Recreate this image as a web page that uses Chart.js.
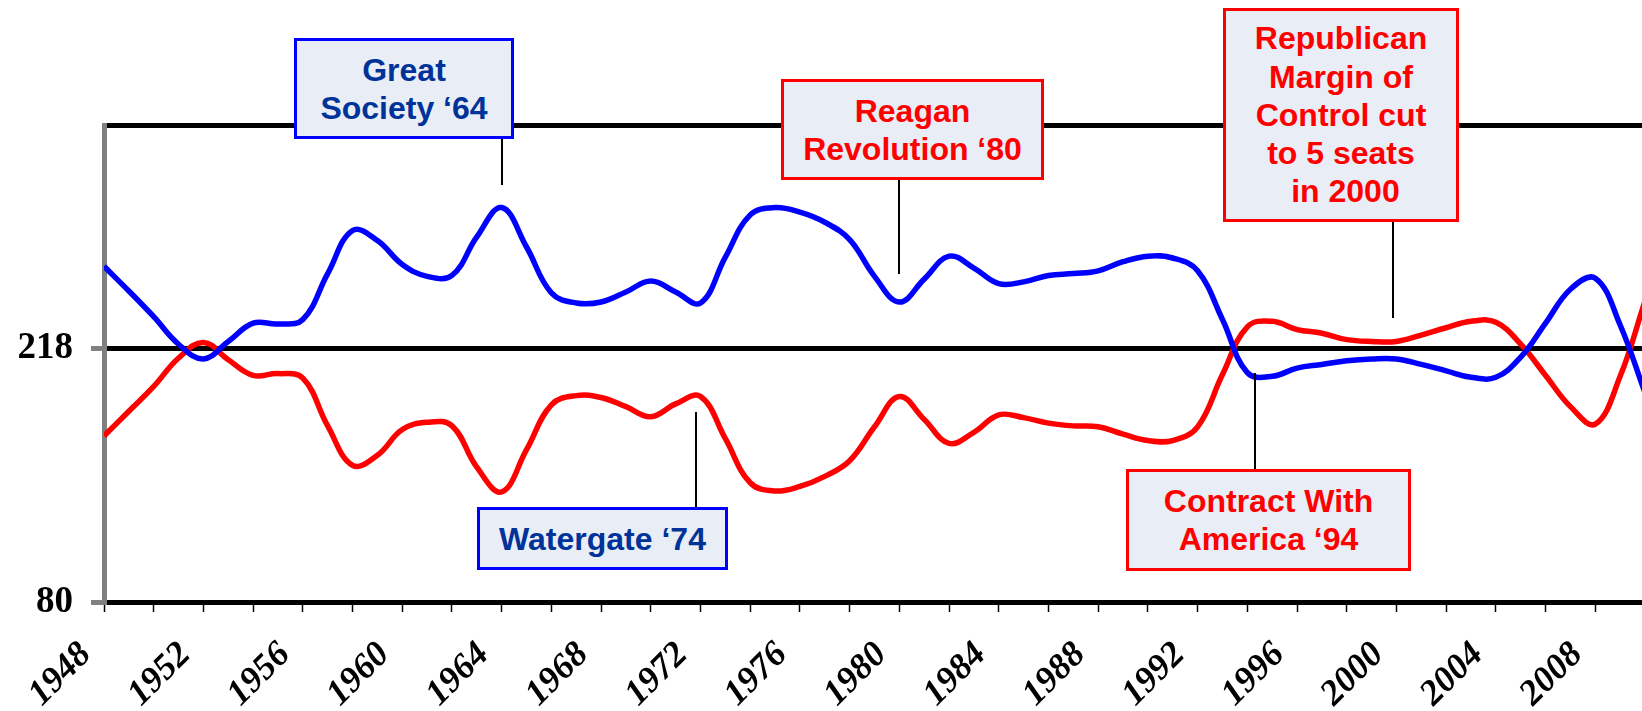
<!DOCTYPE html>
<html>
<head>
<meta charset="utf-8">
<title>House seats 1948-2010</title>
<script src="https://cdn.jsdelivr.net/npm/chart.js@4.4.1/dist/chart.umd.min.js"></script>
<style>
  html, body { margin: 0; padding: 0; background: #fff; overflow: hidden; }
  #wrap { position: relative; width: 1642px; height: 711px; overflow: hidden; }
  #chart { position: absolute; left: 0; top: 0; }
  .note {
    position: absolute; box-sizing: border-box; border: 3px solid;
    background: #e9edf6; display: flex; align-items: center; justify-content: center;
    font: bold 32px 'Liberation Sans', Arial, sans-serif; line-height: 38px;
    text-align: center; white-space: pre;
  }
  .dem { border-color: #0000ff; color: #003399; }
  .rep { border-color: #ff0000; color: #ff0000; }
</style>
</head>
<body>
<div id="wrap">
  <canvas id="chart" width="1645" height="711"></canvas>
  <div class="note dem" style="left:294px;top:38px;width:220px;height:101px"><span>Great<br>Society ‘64</span></div>
  <div class="note rep" style="left:781px;top:79px;width:263px;height:101px"><span>Reagan<br>Revolution ‘80</span></div>
  <div class="note rep" style="left:1223px;top:8px;width:236px;height:214px;line-height:38.3px"><span>Republican<br>Margin of<br>Control cut<br>to 5 seats<br> in 2000</span></div>
  <div class="note dem" style="left:477px;top:507px;width:251px;height:63px"><span>Watergate ‘74</span></div>
  <div class="note rep" style="left:1126px;top:469px;width:285px;height:102px"><span>Contract With<br>America ‘94</span></div>
</div>
<script>
// seats held after each year
const years = [
  1948, 1949, 1950, 1951, 1952, 1953, 1954, 1955, 1956, 1957,
  1958, 1959, 1960, 1961, 1962, 1963, 1964, 1965, 1966, 1967,
  1968, 1969, 1970, 1971, 1972, 1973, 1974, 1975, 1976, 1977,
  1978, 1979, 1980, 1981, 1982, 1983, 1984, 1985, 1986, 1987,
  1988, 1989, 1990, 1991, 1992, 1993, 1994, 1995, 1996, 1997,
  1998, 1999, 2000, 2001, 2002, 2003, 2004, 2005, 2006, 2007,
  2008, 2009, 2010
];

const demSeats = [
  263, 249.5, 235.5, 220.5, 212.5, 222, 232, 231.5, 234, 259,
  282.5, 277, 264, 257.5, 258, 279, 295, 273.5, 248.5, 243,
  243.5, 249, 255, 249, 243, 268, 291, 295, 292.5, 287,
  277.5, 257.5, 243.5, 256, 268.5, 262, 253.5, 254.5, 258, 259,
  260.5, 265.5, 268.5, 267.5, 260.5, 234, 205, 203, 207.5, 209.5,
  211.5, 212.5, 212.5, 209.5, 206, 202.5, 202.5, 213.5, 232, 250.5,
  256.5, 231, 194
];

const repSeats = [
  170.5, 184, 197.5, 213, 221.5, 212, 203.5, 204.5, 202, 176,
  154.5, 160, 174, 178, 176, 153.5, 140, 163, 187.5, 192.5,
  191.5, 186.5, 181, 188, 192, 169, 145, 140.5, 143, 148.5,
  157, 175.5, 192, 179.5, 166.5, 172.5, 182, 180.5, 177.5, 176,
  175.5, 171.5, 168, 168, 175.5, 204, 230, 233, 228.5, 226.5,
  223, 222, 222, 225.5, 229.5, 233, 232.5, 220.5, 203.5, 186.5,
  177, 203, 244
];

const yearLabels = ['1948', '1952', '1956', '1960', '1964', '1968', '1972', '1976',
                    '1980', '1984', '1988', '1992', '1996', '2000', '2004', '2008'];
const seatTicks = [80, 218];
const seatMax = 340;

// callout leader lines: x from the year scale, y ends in pixels (box edge -> near the curve)
const pointers = [
  { year: 1964, y1: 139, y2: 185 },
  { year: 1980, y1: 180, y2: 274 },
  { year: 1999.85, y1: 222, y2: 318 },
  { year: 1971.8, y1: 412, y2: 507 },
  { year: 1994.3, y1: 373, y2: 469 }
];

const pointerPlugin = {
  id: 'pointers',
  afterDatasetsDraw(chart) {
    const ctx = chart.ctx;
    const xs = chart.scales.x;
    ctx.save();
    ctx.strokeStyle = '#000';
    ctx.lineWidth = 2;
    pointers.forEach(p => {
      const x = Math.round(xs.getPixelForValue(p.year));
      ctx.beginPath();
      ctx.moveTo(x, p.y1);
      ctx.lineTo(x, p.y2);
      ctx.stroke();
    });
    ctx.restore();
  }
};

const serif = "'Liberation Serif', 'Times New Roman', serif";

new Chart(document.getElementById('chart'), {
  type: 'line',
  data: {
    datasets: [
      {
        label: 'Democrats',
        data: years.map((yr, i) => ({ x: yr, y: demSeats[i] })),
        borderColor: '#0000ff',
        borderWidth: 5.5,
        pointRadius: 0,
        tension: 0.4,
        fill: false
      },
      {
        label: 'Republicans',
        data: years.map((yr, i) => ({ x: yr, y: repSeats[i] })),
        borderColor: '#ff0000',
        borderWidth: 5.5,
        pointRadius: 0,
        tension: 0.4,
        fill: false
      }
    ]
  },
  options: {
    responsive: false,
    animation: false,
    layout: { padding: { top: 125, left: 0, right: 0, bottom: 0 } },
    plugins: {
      legend: { display: false },
      tooltip: { enabled: false }
    },
    scales: {
      x: {
        type: 'linear',
        min: 1948,
        max: 2010,
        afterBuildTicks: s => {
          s.ticks = years.filter(v => v % 2 === 0).map(v => ({ value: v }));
        },
        border: { color: '#000', width: 5 },
        grid: { drawOnChartArea: false, drawTicks: true, tickLength: 10, tickColor: '#000', tickWidth: 1.5 },
        ticks: {
          autoSkip: false,
          minRotation: 45,
          maxRotation: 45,
          padding: 22,
          labelOffset: -18,
          color: '#000',
          font: { family: serif, size: 36, weight: 'bold', style: 'italic' },
          callback: v => yearLabels.includes(String(v)) ? String(v) : ''
        },
        afterFit: s => { s.height = 109; s.paddingLeft = 0; s.paddingRight = 0; }
      },
      y: {
        min: 80,
        max: seatMax,
        afterBuildTicks: s => {
          s.ticks = seatTicks.concat([seatMax]).map(v => ({ value: v }));
        },
        border: { color: '#808080', width: 5 },
        grid: {
          color: '#000',
          lineWidth: 5,
          tickLength: 13,
          tickWidth: 5,
          tickColor: c => (c.tick && c.tick.value === seatMax) ? 'rgba(0,0,0,0)' : '#808080'
        },
        ticks: {
          padding: 18,
          color: '#000',
          font: { family: serif, size: 37, weight: 'bold' },
          callback: v => seatTicks.includes(v) ? String(v) : ''
        },
        afterFit: s => { s.width = 104; s.paddingTop = 0; s.paddingBottom = 0; }
      }
    }
  },
  plugins: [pointerPlugin]
});
</script>
</body>
</html>
